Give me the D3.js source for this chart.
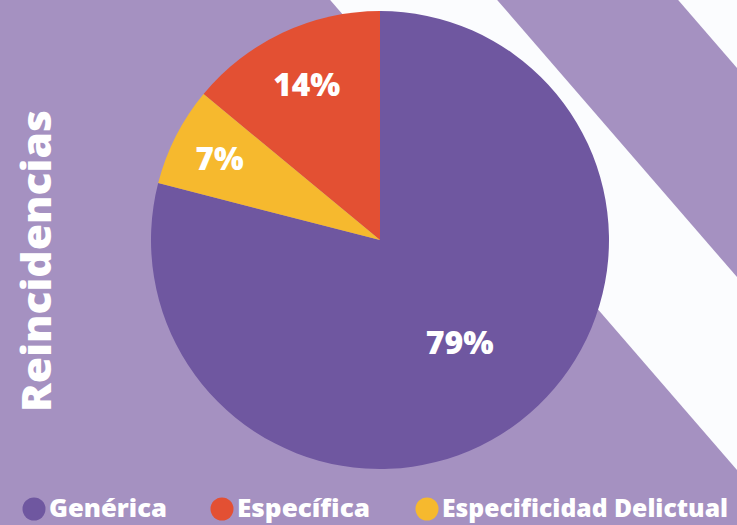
<!DOCTYPE html>
<html>
<head>
<meta charset="utf-8">
<script src="https://cdn.jsdelivr.net/npm/d3@7"></script>
<style>
  html, body { margin: 0; padding: 0; background: #a591c1; }
  svg { display: block; }
  text { font-family: "Open Sans", Lato, sans-serif; font-weight: 800; fill: #ffffff; }
</style>
</head>
<body>
<div id="chart"></div>
<script>
const WIDTH = 737
const HEIGHT = 525

// data
const categories = ["Genérica", "Específica", "Especificidad Delictual"]
const values = [79, 14, 7]
const colors = ["#6f57a0", "#e35033", "#f6b92e"]
const pieOrder = ["Genérica", "Especificidad Delictual", "Específica"]
const title = "Reincidencias"

const data = categories.map((c, i) => ({ name: c, value: values[i], color: colors[i] }))

// label styling
const labelRadius = { "Genérica": 130, "Específica": 172, "Especificidad Delictual": 180 }
const labelWidth = { "Genérica": 68, "Específica": 67, "Especificidad Delictual": 48 }
const legendX = [34, 222, 427]
const legendWidth = [118, 133, 286]

const svg = d3.select("#chart")
    .append("svg")
    .attr("width", WIDTH)
    .attr("height", HEIGHT)

svg.append("rect")
    .attr("width", WIDTH)
    .attr("height", HEIGHT)
    .attr("fill", "#a591c1")

// white diagonal bands in the background
const slope = 0.85
const band = (x0, x1) => [[x0 - slope * 10, -10], [x1 - slope * 10, -10],
                          [x1 + slope * 540, 530], [x0 + slope * 540, 530]]
const line = d3.line()
svg.append("path").attr("d", line(band(330, 497)) + "Z").attr("fill", "#fbfcfe")
svg.append("path").attr("d", line(band(678, 1400)) + "Z").attr("fill", "#fbfcfe")

// pie
const cx = 380, cy = 240, R = 229
const pie = d3.pie()
    .value(d => d.value)
    .sort((a, b) => pieOrder.indexOf(a.name) - pieOrder.indexOf(b.name))
const arc = d3.arc().innerRadius(0).outerRadius(R)

const g = svg.append("g").attr("transform", `translate(${cx},${cy})`)
const arcs = pie(data)

g.selectAll(".slice")
    .data(arcs)
    .enter()
    .append("path")
    .attr("class", "slice")
    .attr("d", arc)
    .attr("fill", d => d.data.color)

g.selectAll(".pct")
    .data(arcs)
    .enter()
    .append("text")
    .attr("class", "pct")
    .attr("transform", d => {
        const r = labelRadius[d.data.name]
        const [x, y] = d3.arc().innerRadius(r).outerRadius(r).centroid(d)
        return `translate(${x},${y})`
    })
    .attr("text-anchor", "middle")
    .attr("dy", "0.36em")
    .attr("font-size", 32)
    .attr("textLength", d => labelWidth[d.data.name])
    .attr("lengthAdjust", "spacingAndGlyphs")
    .text(d => d.data.value + "%")

// rotated title
svg.append("text")
    .attr("transform", "translate(51,261) rotate(-90)")
    .attr("text-anchor", "middle")
    .attr("font-size", 40)
    .attr("textLength", 302)
    .attr("lengthAdjust", "spacingAndGlyphs")
    .text(title)

// legend
const legend = svg.selectAll(".legend")
    .data(data)
    .enter()
    .append("g")
    .attr("class", "legend")
    .attr("transform", (d, i) => `translate(${legendX[i]},509)`)

legend.append("circle")
    .attr("r", 11.5)
    .attr("fill", d => d.color)

legend.append("text")
    .attr("x", 15)
    .attr("y", 8)
    .attr("font-size", 25)
    .attr("textLength", (d, i) => legendWidth[i])
    .attr("lengthAdjust", "spacingAndGlyphs")
    .text(d => d.name)
</script>
</body>
</html>
